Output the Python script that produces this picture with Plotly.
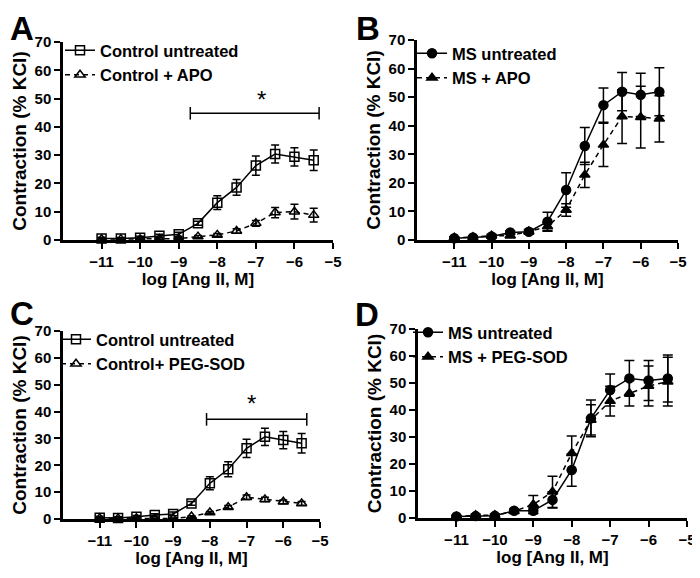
import plotly.graph_objects as go

# log concentration of Ang II
conc = [-11, -10.5, -10, -9.5, -9, -8.5, -8, -7.5, -7, -6.5, -6, -5.5]

# Panel A: control +/- APO
a_ctrl = [0.5, 0.5, 0.8, 1.5, 2.0, 5.9, 13.2, 18.6, 26.3, 30.4, 29.4, 28.2]
a_ctrl_err = [0.5, 0.4, 0.5, 0.5, 0.7, 0.7, 2.4, 2.8, 3.4, 3.2, 3.2, 3.6]
a_apo = [0.3, 0.3, 0.3, 0.4, 0.5, 1.2, 1.8, 3.2, 5.9, 9.7, 10.0, 8.8]
a_apo_err = [0.3, 0.3, 0.3, 0.3, 0.3, 0.4, 0.5, 0.8, 1.0, 1.8, 2.6, 2.4]

# Panel B: MS +/- APO
b_ms = [0.6, 0.9, 1.2, 2.6, 2.9, 6.4, 17.5, 32.9, 47.2, 51.9, 50.8, 51.9]
b_ms_err = [0.4, 0.4, 0.5, 0.6, 0.8, 3.3, 6.0, 6.5, 6.0, 6.7, 7.6, 8.4]
b_apo = [0.8, 1.0, 1.5, 1.5, 3.0, 4.7, 10.5, 22.8, 33.3, 43.2, 43.0, 42.4]
b_apo_err = [0.3, 0.4, 0.5, 0.5, 0.6, 1.5, 2.2, 4.4, 7.6, 9.4, 10.8, 8.1]

# Panel C: control +/- PEG-SOD
c_ctrl = [0.5, 0.4, 0.8, 1.5, 1.9, 5.8, 13.3, 18.5, 26.3, 30.6, 29.4, 28.2]
c_ctrl_err = [0.5, 0.4, 0.5, 0.5, 0.7, 0.7, 2.4, 2.8, 3.4, 3.2, 3.2, 3.6]
c_sod = [0.3, 0.2, 0.3, 0.2, 0.2, 0.9, 2.4, 4.4, 8.1, 7.3, 6.4, 5.8]
c_sod_err = [0.2, 0.2, 0.2, 0.2, 0.2, 0.3, 0.4, 0.6, 0.8, 0.8, 0.7, 0.7]

# Panel D: MS +/- PEG-SOD
d_ms = [0.6, 0.7, 0.8, 2.7, 2.7, 6.7, 17.8, 36.9, 47.4, 51.7, 50.9, 51.7]
d_ms_err = [0.4, 0.4, 0.5, 0.6, 1.0, 3.0, 6.0, 6.8, 5.9, 6.6, 7.4, 8.7]
d_sod = [0.5, 1.0, 1.0, 2.5, 5.0, 9.7, 24.0, 36.3, 43.3, 46.2, 48.9, 50.5]
d_sod_err = [0.3, 0.5, 0.5, 0.6, 3.3, 5.8, 6.4, 5.6, 5.5, 4.7, 7.4, 9.0]

# significance bars: [x start, x end, height], asterisk [x, y]
sig_a = [-8.7, -5.36, 44.8]
star_a = [-6.85, 49.5]
sig_c = [-8.09, -5.36, 37.1]
star_c = [-6.86, 43.0]

x_ticks = [-11, -10, -9, -8, -7, -6, -5]
y_ticks = [0, 10, 20, 30, 40, 50, 60, 70]

FONT = "Liberation Sans, Arial, sans-serif"
# the page body keeps the browser's 8px margin, so the figure is drawn
# a little smaller and all positions below are given in window pixels
OFF = 8
W, H = 700 - OFF, 578 - OFF

fig = go.Figure()


def add_series(n, y, err, name, symbol, dash, cap):
    xa = "x" if n == 1 else "x%d" % n
    ya = "y" if n == 1 else "y%d" % n
    lg = "legend" if n == 1 else "legend%d" % n
    fig.add_trace(go.Scatter(
        x=conc, y=y, name=name, xaxis=xa, yaxis=ya, legend=lg,
        mode="lines+markers", cliponaxis=False,
        line=dict(color="black", width=1.5, dash=dash),
        marker=dict(symbol=symbol, size=9, color="black",
                    line=dict(color="black", width=1.5)),
        error_y=dict(type="data", array=err, color="black",
                     thickness=1.5, width=cap),
    ))


add_series(1, a_ctrl, a_ctrl_err, "Control untreated", "square-open", "solid", 4)
add_series(1, a_apo, a_apo_err, "Control + APO", "triangle-up-open", "5px,4px", 4)
add_series(2, b_ms, b_ms_err, "MS untreated", "circle", "solid", 5)
add_series(2, b_apo, b_apo_err, "MS + APO", "triangle-up", "5px,4px", 5)
add_series(3, c_ctrl, c_ctrl_err, "Control untreated", "square-open", "solid", 4)
add_series(3, c_sod, c_sod_err, "Control+ PEG-SOD", "triangle-up-open", "5px,4px", 4)
add_series(4, d_ms, d_ms_err, "MS untreated", "circle", "solid", 5)
add_series(4, d_sod, d_sod_err, "MS + PEG-SOD", "triangle-up", "5px,4px", 5)

# significance bars
for sig, star, xa, ya in [(sig_a, star_a, "x", "y"), (sig_c, star_c, "x3", "y3")]:
    fig.add_trace(go.Scatter(
        x=sig[:2], y=[sig[2], sig[2]], xaxis=xa, yaxis=ya, showlegend=False,
        mode="lines+markers", line=dict(color="black", width=1.5),
        marker=dict(symbol="line-ns", size=9, line=dict(color="black", width=1.5)),
    ))
    fig.add_annotation(x=star[0], y=star[1], xref=xa, yref=ya, text="*",
                       showarrow=False, font=dict(family=FONT, size=24, color="black"))


def px_x(a, b):
    return [(a - OFF) / W, (b - OFF) / W]


def px_y(top, bottom):
    return [1 - (bottom - OFF) / H, 1 - (top - OFF) / H]


domains = {
    1: (px_x(63, 333), px_y(42, 240)),
    2: (px_x(417, 678), px_y(40, 240)),
    3: (px_x(63, 320), px_y(331, 519)),
    4: (px_x(418, 687), px_y(329, 518)),
}

tickfont = dict(family=FONT, size=15, color="black", weight="bold")
layout = {}
for n, (dx, dy) in domains.items():
    sx = "" if n == 1 else str(n)
    layout["xaxis" + sx] = dict(
        domain=dx, range=[-12, -5], anchor="y" + sx, tickvals=x_ticks,
        ticks="outside", ticklen=6, tickwidth=2, tickcolor="black",
        showline=True, linewidth=2.5, linecolor="black", showgrid=False,
        zeroline=False, tickfont=tickfont, automargin=False,
        title=dict(text="log [Ang II, M]", standoff=4,
                   font=dict(family=FONT, size=17, color="black", weight="bold")),
    )
    layout["yaxis" + sx] = dict(
        domain=dy, range=[0, 70], anchor="x" + sx, tickvals=y_ticks,
        ticks="outside", ticklen=6, tickwidth=2, tickcolor="black",
        showline=True, linewidth=2.5, linecolor="black", showgrid=False,
        zeroline=False, tickfont=tickfont, automargin=False,
        title=dict(text="Contraction (% KCl)", standoff=3,
                   font=dict(family=FONT, size=19, color="black", weight="bold")),
    )

# legends placed in the upper left of each panel (window pixels)
leg_pos = {1: (60, 33), 2: (412, 36), 3: (56, 322), 4: (408, 315)}
for n, (lx, ly) in leg_pos.items():
    key = "legend" if n == 1 else "legend%d" % n
    layout[key] = dict(x=(lx - OFF) / W, y=1 - (ly - OFF) / H,
                       xanchor="left", yanchor="top",
                       bgcolor="rgba(0,0,0,0)", itemwidth=30,
                       font=dict(family=FONT, size=16.5, color="black", weight="bold"),
                       tracegroupgap=0)

fig.update_layout(
    width=W, height=H, margin=dict(l=0, r=0, t=0, b=0),
    paper_bgcolor="white", plot_bgcolor="white", **layout,
)

# panel letters (top edge in window pixels)
for letter, lx, ly in [("A", 8, 8), ("B", 354, 8), ("C", 8, 293), ("D", 353, 294)]:
    fig.add_annotation(x=(lx - OFF) / W, y=1 - (ly - OFF) / H, xref="paper", yref="paper",
                       xanchor="left", yanchor="top", showarrow=False, text=letter,
                       font=dict(family=FONT, size=33, color="black", weight="bold"))

fig.write_html("out.html")
